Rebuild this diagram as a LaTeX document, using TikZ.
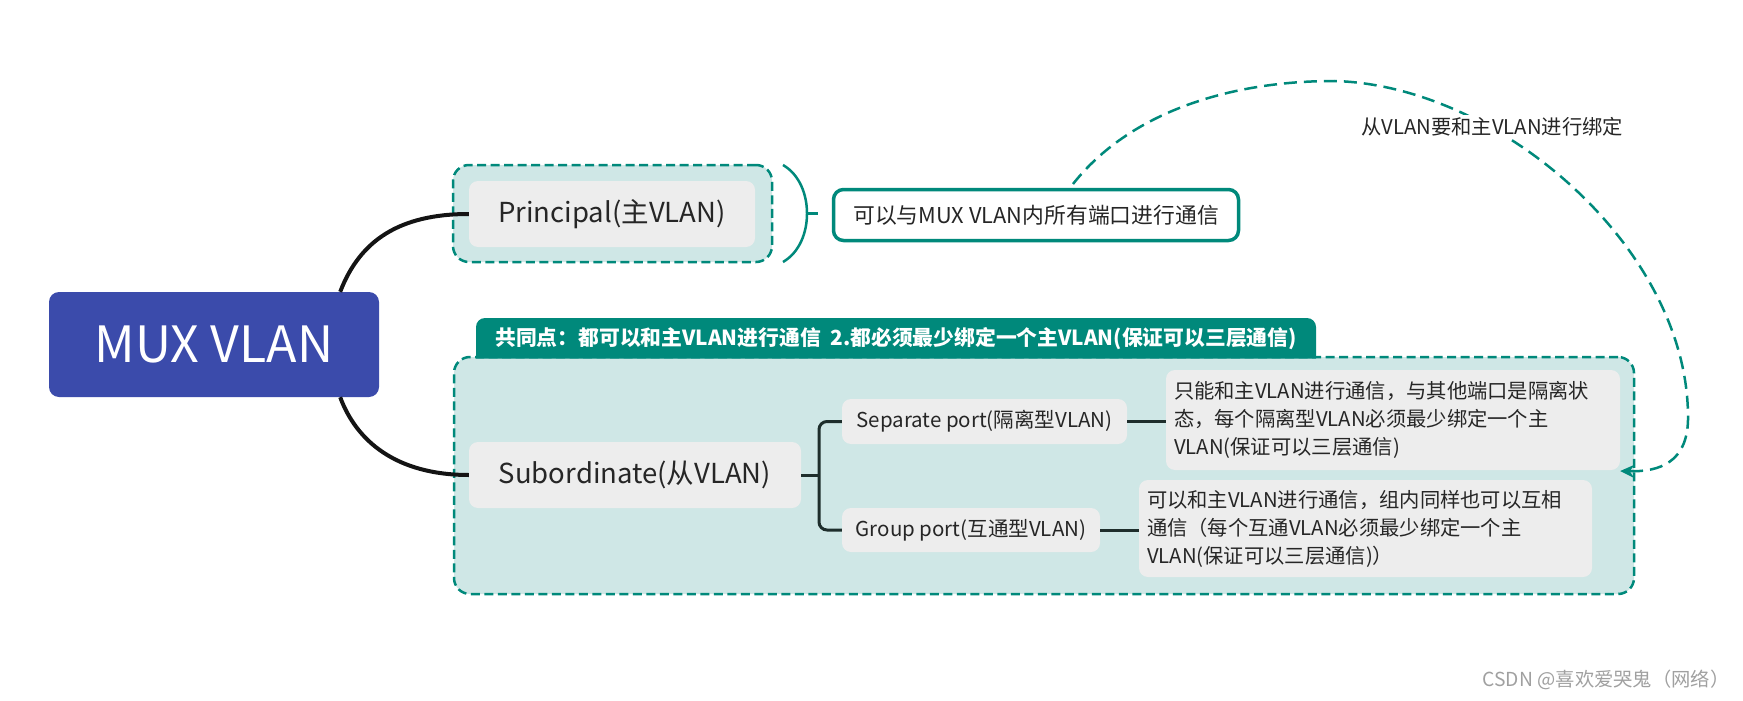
\documentclass[tikz,border=0pt]{standalone}
\usepackage{fontspec}
\setmainfont{Noto Sans CJK SC}
\usetikzlibrary{arrows.meta}
\definecolor{teal1}{HTML}{00897B}
\definecolor{tealfill}{HTML}{CFE7E6}
\definecolor{greyfill}{HTML}{EDEDED}
\definecolor{muxblue}{HTML}{3B4BAB}
\definecolor{txt}{HTML}{262626}
\definecolor{branch}{HTML}{1E2E2C}
\definecolor{wm}{HTML}{A0A0A0}
\begin{document}
\begin{tikzpicture}[x=1pt,y=-1pt,
  dashbox/.style={draw=teal1, line width=2.5pt, dash pattern=on 9pt off 4.5pt, fill=tealfill, rounded corners=16pt, inner sep=0pt},
  greynode/.style={fill=greyfill, rounded corners=9pt, text=txt, inner sep=0pt},
  bigfont/.style={font=\fontsize{27.5}{32}\selectfont},
  midfont/.style={font=\fontsize{20.5}{24}\selectfont},
  descnode/.style={greynode, align=left, font=\fontsize{20.3}{28}\selectfont, inner sep=0pt},
  mainlink/.style={draw=black!92, line width=4pt},
  branchlink/.style={draw=branch, line width=3pt},
]
\useasboundingbox (0,0) rectangle (1743,701);

% central node
\node[fill=muxblue, rounded corners=10pt, minimum width=330pt, minimum height=105pt, inner sep=0pt,
      text=white, font=\fontsize{50}{56}\selectfont] (mux) at (214,344.5) {MUX VLAN};

% Principal group
\node[dashbox, minimum width=319pt, minimum height=97pt] (prinbox) at (612.5,213.5) {};
\node[greynode, bigfont, minimum width=286pt, minimum height=66pt] (prin) at (612,214) {Principal(主VLAN)};

% brace
\coordinate (brtop) at (783,165);
\coordinate (brmid) at (807,213.5);
\coordinate (brbot) at (783,262);
\coordinate (brtick) at (818,213.5);
\draw[teal1, line width=2.5pt] (brtop) .. controls (800,175) and (807,195) .. (brmid)
      .. controls (807,232) and (800,252) .. (brbot);
\draw[teal1, line width=2.5pt] (brmid) -- (brtick);

\node[draw=teal1, line width=3.5pt, fill=white, rounded corners=10pt, minimum width=405pt, minimum height=51pt,
      inner sep=0pt, text=txt, font=\fontsize{21.8}{26}\selectfont] (prindesc) at (1036,215) {可以与MUX VLAN内所有端口进行通信};

% Subordinate group
\node[dashbox, minimum width=1180pt, minimum height=237pt] (subbox) at (1044,475.5) {};
\path[fill=teal1] (476,358.5) {[rounded corners=9pt] -- (476,318) -- (1316,318)} -- (1316,358.5) -- cycle;
\node[text=white, font=\bfseries\fontsize{20.8}{24}\selectfont, inner sep=0pt] (hdr) at (896,338.5)
  {共同点：都可以和主VLAN进行通信\ \ 2.都必须最少绑定一个主VLAN(保证可以三层通信)};

% main connectors
\draw[mainlink] (mux.north east) ++(-39,0) coordinate (muxt) .. controls (360,240) and (400,214) .. (prin.west);
\draw[mainlink] (mux.south east) ++(-39,0) coordinate (muxb) .. controls (356,440) and (395,475) .. (469,475);

\node[greynode, bigfont, minimum width=332pt, minimum height=66pt] (sub) at (635,475) {Subordinate(从VLAN)};

\node[greynode, midfont, minimum width=285pt, minimum height=45pt] (sep) at (984.5,421.5) {Separate port(隔离型VLAN)};
\node[greynode, midfont, minimum width=258pt, minimum height=44pt] (grp) at (971,530) {Group port(互通型VLAN)};

% branch bracket
\coordinate (bj) at (819,475);
\draw[branchlink] (sub.east) -- (bj);
\draw[branchlink, rounded corners=8pt] (sep.west) -- (819,421.5) -- (819,530) -- (grp.west);

\node[descnode, minimum width=454pt, minimum height=100pt, text width=438pt] (sepdesc) at (1393,420)
  {只能和主VLAN进行通信，与其他端口是隔离状\\态，每个隔离型VLAN必须最少绑定一个主\\VLAN(保证可以三层通信)};
\node[descnode, minimum width=453pt, minimum height=97pt, text width=437pt] (grpdesc) at (1365.5,528.5)
  {可以和主VLAN进行通信，组内同样也可以互相\\通信（每个互通VLAN必须最少绑定一个主\\VLAN(保证可以三层通信)）};

\draw[branchlink] (sep.east) -- (sep.east -| sepdesc.west);
\draw[branchlink] (grp.east) -- (grp.east -| grpdesc.west);

% dashed binding arrow
\coordinate (arrstart) at (1073,184);
\draw[teal1, line width=2.5pt, dash pattern=on 13pt off 7pt, -{Stealth[length=14pt,width=13pt]}]
  (arrstart) .. controls (1130,112) and (1230,81) .. (1334,81)
  .. controls (1500,85) and (1690,250) .. (1688,420)
  .. controls (1687,462) and (1660,472) .. (sepdesc.east |- 0,471);
\node[fill=white, text=txt, inner sep=3pt, font=\fontsize{20.3}{24}\selectfont] (lbl) at (1492,127) {从VLAN要和主VLAN进行绑定};

% watermark
\node[text=wm, font=\fontsize{19.3}{22}\selectfont, inner sep=0pt] (wmk) at (1606,680) {CSDN @喜欢爱哭鬼（网络）};
\end{tikzpicture}
\end{document}
